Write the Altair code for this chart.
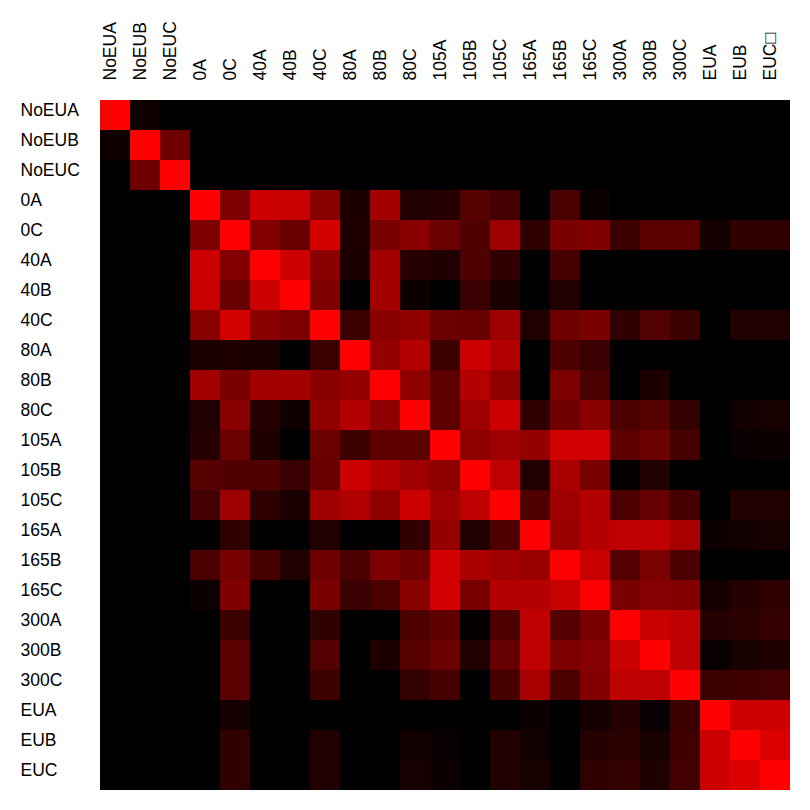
import altair as alt
import pandas as pd

labels = ["NoEUA", "NoEUB", "NoEUC", "0A", "0C", "40A", "40B", "40C", "80A", "80B",
          "80C", "105A", "105B", "105C", "165A", "165B", "165C", "300A", "300B",
          "300C", "EUA", "EUB", "EUC"]

# lower triangle of the correlation matrix (row i, columns 0..i)
lower = [
    [1],
    [0.06, 1],
    [0, 0.44, 1],
    [0, 0, 0, 1],
    [0, 0, 0, 0.49, 1],
    [0, 0, 0, 0.80, 0.51, 1],
    [0, 0, 0, 0.78, 0.41, 0.80, 1],
    [0, 0, 0, 0.53, 0.83, 0.54, 0.49, 1],
    [0, 0, 0, 0.11, 0.12, 0.10, 0, 0.23, 1],
    [0, 0, 0, 0.64, 0.47, 0.64, 0.64, 0.54, 0.58, 1],
    [0, 0, 0, 0.13, 0.54, 0.15, 0.06, 0.57, 0.71, 0.56, 1],
    [0, 0, 0, 0.15, 0.42, 0.12, 0, 0.42, 0.24, 0.37, 0.37, 1],
    [0, 0, 0, 0.34, 0.31, 0.31, 0.22, 0.41, 0.80, 0.71, 0.62, 0.55, 1],
    [0, 0, 0, 0.26, 0.61, 0.18, 0.10, 0.62, 0.69, 0.57, 0.80, 0.62, 0.74, 1],
    [0, 0, 0, 0, 0.18, 0, 0, 0.13, 0, 0, 0.19, 0.58, 0.13, 0.31, 1],
    [0, 0, 0, 0.29, 0.47, 0.28, 0.13, 0.43, 0.30, 0.49, 0.44, 0.82, 0.67, 0.63, 0.60, 1],
    [0, 0, 0, 0.05, 0.50, 0.01, 0, 0.48, 0.22, 0.29, 0.54, 0.82, 0.47, 0.71, 0.71, 0.78, 1],
    [0, 0, 0, 0, 0.23, 0, 0, 0.19, 0, 0, 0.30, 0.36, 0.02, 0.30, 0.75, 0.33, 0.48, 1],
    [0, 0, 0, 0, 0.35, 0, 0, 0.32, 0, 0.11, 0.34, 0.42, 0.13, 0.40, 0.75, 0.49, 0.52, 0.79, 1],
    [0, 0, 0, 0, 0.35, 0, 0, 0.23, 0, 0, 0.20, 0.28, 0, 0.28, 0.65, 0.29, 0.51, 0.75, 0.74, 1],
    [0, 0, 0, 0, 0.08, 0, 0, 0, 0, 0, 0, 0, 0, 0, 0.05, 0, 0.08, 0.14, 0.03, 0.23, 1],
    [0, 0, 0, 0, 0.19, 0, 0, 0.13, 0, 0, 0.07, 0.03, 0, 0.13, 0.07, 0, 0.14, 0.17, 0.09, 0.25, 0.80, 1],
    [0, 0, 0, 0, 0.19, 0, 0, 0.13, 0, 0, 0.09, 0.05, 0, 0.13, 0.09, 0, 0.18, 0.20, 0.12, 0.26, 0.80, 0.86, 1],
]

rows = []
for i, r in enumerate(lower):
    for j, v in enumerate(r):
        rows.append({"row": labels[i], "col": labels[j], "value": v})
        if i != j:
            rows.append({"row": labels[j], "col": labels[i], "value": v})
df = pd.DataFrame(rows)

FONT = "Liberation Sans"

chart = alt.Chart(df).mark_rect(strokeWidth=0).encode(
    x=alt.X("col:N", sort=labels, title=None,
            scale=alt.Scale(paddingInner=0, paddingOuter=0),
            axis=alt.Axis(orient="top", labelAngle=270, labelAlign="left",
                          labelBaseline="middle", labelPadding=20, labelOffset=-4,
                          ticks=False, tickSize=0, domain=False,
                          labelFont=FONT, labelFontSize=17.5,
                          labelColor="black",
                          labelExpr="datum.value == 'EUC' ? 'EUC\u25a1' : datum.value")),
    y=alt.Y("row:N", sort=labels, title=None,
            scale=alt.Scale(paddingInner=0, paddingOuter=0),
            axis=alt.Axis(orient="left", labelAlign="left", labelBaseline="middle",
                          labelPadding=80, labelOffset=-4,
                          ticks=False, tickSize=0, domain=False,
                          labelFont=FONT, labelFontSize=17.5,
                          labelColor="black")),
    color=alt.Color("value:Q", legend=None,
                    scale=alt.Scale(domain=[0, 1], range=["#000000", "#ff0000"],
                                    interpolate="rgb", clamp=True)),
).properties(
    width=690, height=690,
    autosize=alt.AutoSizeParams(type="none"),
    padding={"left": 92, "top": 92, "right": 0, "bottom": 0},
).configure_view(strokeWidth=0).configure(background="white")

chart.save("out.html", embed_options={"renderer": "svg", "actions": False})
